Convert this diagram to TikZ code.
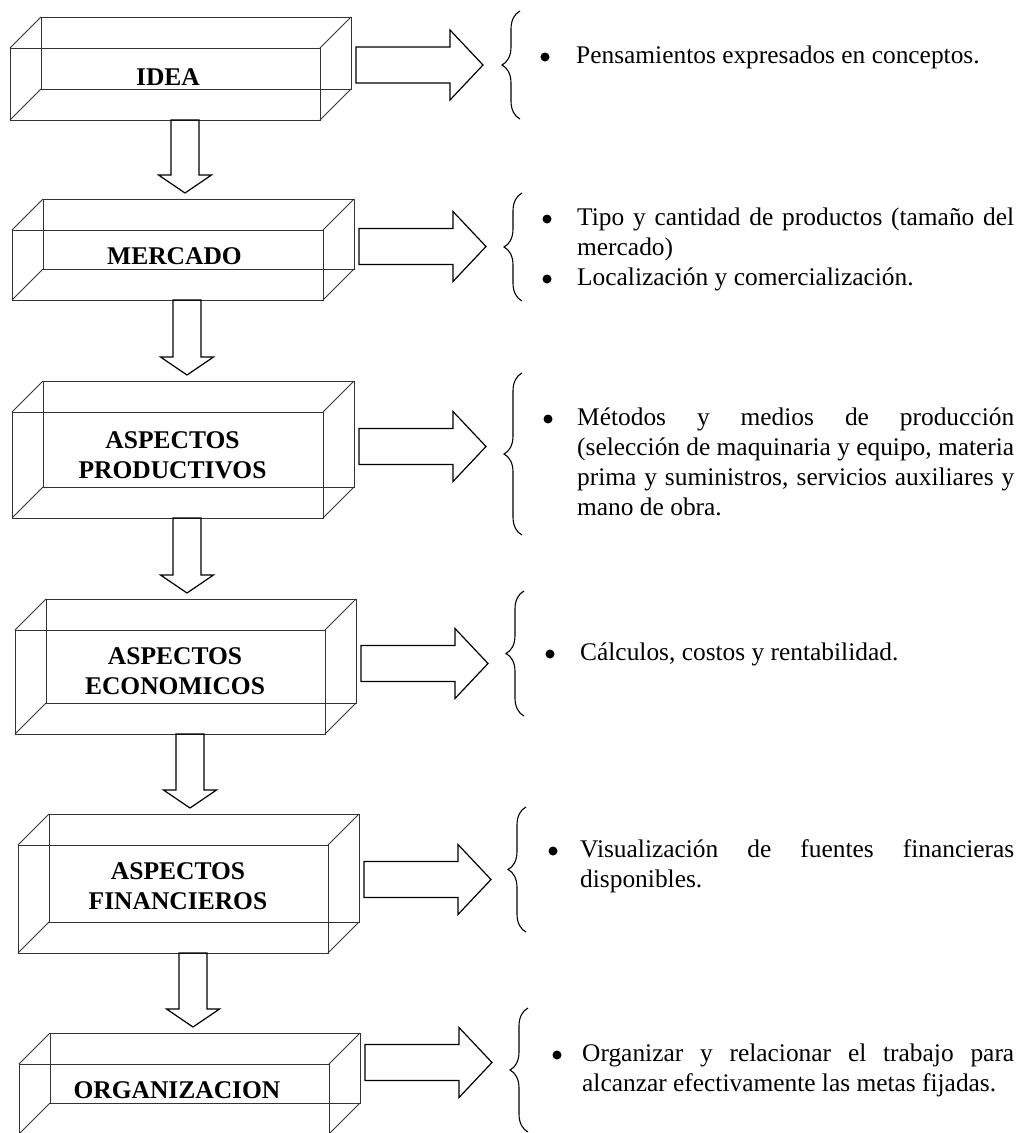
\documentclass[tikz,border=0pt]{standalone}
\usepackage{fontspec}
\setmainfont{Liberation Serif}
\usetikzlibrary{calc,decorations.pathreplacing}

% wireframe box: name, x, y (top-left of front face), width, height
\newcommand\cuboid[5]{%
  \node[cubeface, minimum width=#4pt, minimum height=#5pt, anchor=north west] (#1f) at (#2,#3) {};
  \node[cubeface, minimum width=#4pt, minimum height=#5pt, anchor=north west] (#1b) at ($(#1f.north west)+(31,-31)$) {};
  \foreach \corner in {north west,north east,south west,south east}
    \draw[cubeedge] (#1f.\corner) -- (#1b.\corner);
}
% hollow arrow pointing down, from a start point to just above a target point
\newcommand\downblock[2]{%
  \draw[blockarrow] let \p1=(#1), \p2=(#2) in
    (\x1-14pt,\y1) -- (\x1-14pt,\y2+24pt) -- (\x1-26.5pt,\y2+24pt) -- (\x1,\y2+6pt)
    -- (\x1+26.5pt,\y2+24pt) -- (\x1+14pt,\y2+24pt) -- (\x1+14pt,\y1) -- cycle;
}
% hollow arrow pointing right, starting at a point
\newcommand\rightblock[1]{%
  \draw[blockarrow] let \p1=(#1) in
    (\x1,\y1+18pt) -- (\x1+94pt,\y1+18pt) -- (\x1+94pt,\y1+35pt) -- (\x1+127pt,\y1)
    -- (\x1+94pt,\y1-35pt) -- (\x1+94pt,\y1-18pt) -- (\x1,\y1-18pt) -- cycle;
}
\newcommand\jline[2]{\makebox[#1pt][s]{#2}}
\newcommand\bodysize{\fontsize{25.4}{30}\selectfont}

\begin{document}
\begin{tikzpicture}[x=1pt,y=-1pt,
  cubeface/.style={draw=black!80, line width=0.8pt, inner sep=0pt, outer sep=0pt},
  cubeedge/.style={draw=black!80, line width=0.8pt},
  blockarrow/.style={draw=black, line width=1.2pt, line join=miter},
  bracestyle/.style={draw=black, line width=1.1pt, decorate, decoration={brace, amplitude=18pt}},
  boxlabel/.style={font=\bfseries\fontsize{25.5}{30}\selectfont, align=center, inner sep=0pt},
  bodytext/.style={anchor=base west, inner sep=0pt, font=\bodysize},
  bulletdot/.style={circle, fill=black, inner sep=0pt, minimum size=9pt}
]
\useasboundingbox (0,0) rectangle (1036,1133);

% boxes
\cuboid{c1}{10}{48}{310}{72}
\cuboid{c2}{12}{230}{311}{70}
\cuboid{c3}{12}{412}{311}{106}
\cuboid{c4}{15}{630}{310}{104}
\cuboid{c5}{18}{845}{310}{108}
\cuboid{c6}{19}{1064}{310}{70}

% box labels
\node[boxlabel] (t1) at ($(c1f.center)+(3,-7)$) {IDEA};
\node[boxlabel] (t2) at ($(c2f.center)+(7,-9)$) {MERCADO};
\node[boxlabel] (t3) at ($(c3f.center)+(5,-10)$) {ASPECTOS\\PRODUCTIVOS};
\node[boxlabel] (t4) at ($(c4f.center)+(5,-11)$) {ASPECTOS\\ECONOMICOS};
\node[boxlabel] (t5) at ($(c5f.center)+(5,-13)$) {ASPECTOS\\FINANCIEROS};
\node[boxlabel] (t6) at ($(c6f.center)+(3,-9)$) {ORGANIZACION};

% downward arrows between boxes
\coordinate (d1) at ($(c1f.south west)+(175,0)$);
\coordinate (d2) at ($(c2f.south west)+(175,0)$);
\coordinate (d3) at ($(c3f.south west)+(175,0)$);
\coordinate (d4) at ($(c4f.south west)+(175,0)$);
\coordinate (d5) at ($(c5f.south west)+(175,0)$);
\downblock{d1}{c2b.north}
\downblock{d2}{c3b.north}
\downblock{d3}{c4b.north}
\downblock{d4}{c5b.north}
\downblock{d5}{c6b.north}

% arrows to the descriptions
\coordinate (r1) at ($(c1b.east)+(5,12)$);
\coordinate (r2) at ($(c2b.east)+(5,12.5)$);
\coordinate (r3) at ($(c3b.east)+(5,12.5)$);
\coordinate (r4) at ($(c4b.east)+(5,12.5)$);
\coordinate (r5) at ($(c5b.east)+(5,11.5)$);
\coordinate (r6) at ($(c6b.east)+(5,-5.5)$);
\foreach \r in {r1,r2,r3,r4,r5,r6} { \rightblock{\r} }

% braces
\coordinate (k1t) at (520,11);   \coordinate (k1b) at (520,119);
\coordinate (k2t) at (522,193);  \coordinate (k2b) at (522,301);
\coordinate (k3t) at (522,373);  \coordinate (k3b) at (522,535);
\coordinate (k4t) at (524,591);  \coordinate (k4b) at (524,716);
\coordinate (k5t) at (526,807);  \coordinate (k5b) at (526,932);
\coordinate (k6t) at (528,1008); \coordinate (k6b) at (528,1132);
\foreach \k in {1,...,6} { \draw[bracestyle] (k\k b) -- (k\k t); }

% bullets
\node[bulletdot] (p1) at (545,57) {};
\node[bulletdot] (p2a) at (547,219) {};
\node[bulletdot] (p2b) at (547,279) {};
\node[bulletdot] (p3) at (548,419) {};
\node[bulletdot] (p4) at (550,654) {};
\node[bulletdot] (p5) at (553,851) {};
\node[bulletdot] (p6) at (557,1055) {};

% descriptions
\node[bodytext] (x1) at (576,63) {Pensamientos expresados en conceptos.};
\node[bodytext] (x2) at (577,225) {\parbox[t]{460pt}{\bodysize
  \jline{437}{Tipo y cantidad de productos (tamaño del}\\
  mercado)\\
  Localización y comercialización.}};
\node[bodytext] (x3) at (577,425) {\parbox[t]{460pt}{\bodysize
  \jline{437}{Métodos y medios de producción}\\
  \jline{437}{(selección de maquinaria y equipo, materia}\\
  \jline{437}{prima y suministros, servicios auxiliares y}\\
  mano de obra.}};
\node[bodytext] (x4) at (580,660) {Cálculos, costos y rentabilidad.};
\node[bodytext] (x5) at (580,857) {\parbox[t]{460pt}{\bodysize
  \jline{434}{Visualización de fuentes financieras}\\
  disponibles.}};
\node[bodytext] (x6) at (582,1061) {\parbox[t]{460pt}{\bodysize
  \jline{432}{Organizar y relacionar el trabajo para}\\
  alcanzar efectivamente las metas fijadas.}};
\end{tikzpicture}
\end{document}
